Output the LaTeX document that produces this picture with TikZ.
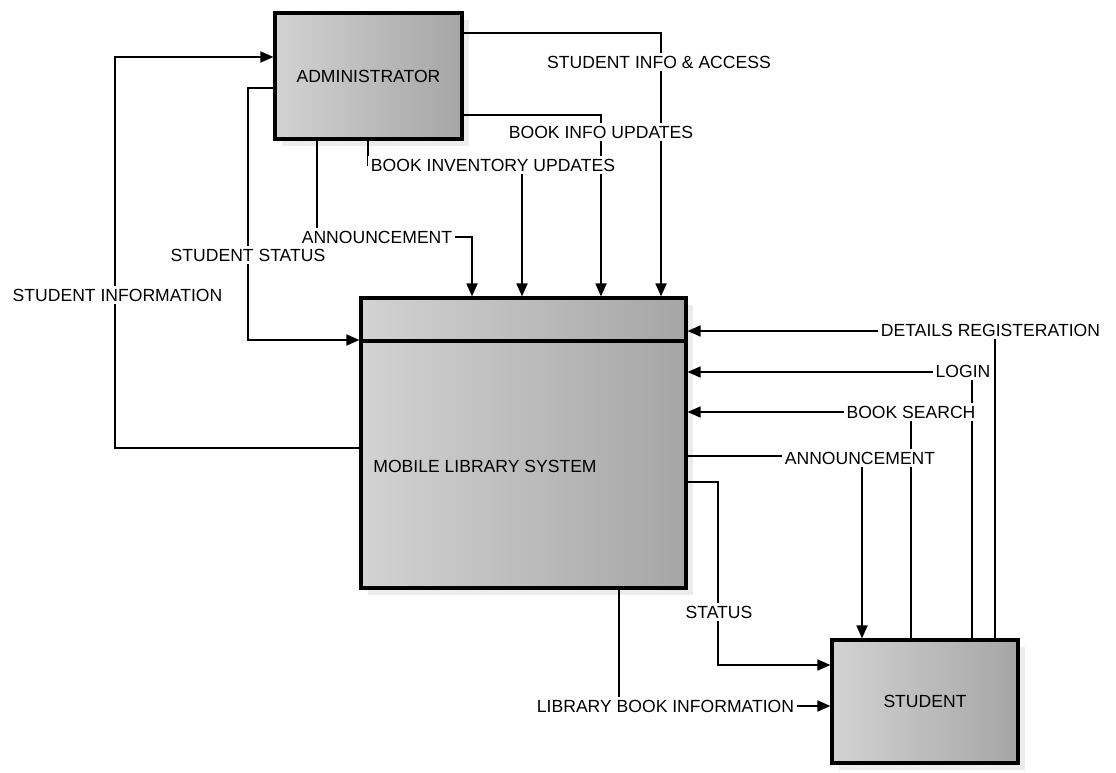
\documentclass[tikz,border=0pt]{standalone}
\usepackage{fontspec}
\setmainfont{Liberation Sans}
\usetikzlibrary{arrows.meta,shadows}
\begin{document}
\begin{tikzpicture}[
x=0.02cm, y=-0.02cm, % pixel-like grid, y grows downwards
font=\fontsize{10}{12}\selectfont,
>={Triangle[length=0.26cm,width=0.22cm]},
entity/.style={draw=black, line width=1.8pt, left color=gray!35, right color=gray!70,
  drop shadow={shadow xshift=4pt, shadow yshift=-4pt, fill=gray!30}, inner sep=0pt},
flow/.style={line width=1pt},
tag/.style={fill=white, inner sep=1.5pt}
]
\useasboundingbox (0,0) rectangle (1116,773);

% --- Entities ---
\node[entity, minimum width=3.74cm, minimum height=2.52cm] (admin) at (368.5,76) {ADMINISTRATOR};
\node[entity, minimum width=6.5cm, minimum height=5.8cm] (mls) at (523.5,443) {};
\draw[line width=1.8pt] (mls.west |- 0,341) -- (mls.east |- 0,341);
\node (mlstext) at (485,466) {MOBILE LIBRARY SYSTEM};
\node[entity, minimum width=3.72cm, minimum height=2.46cm] (student) at (925,701.5) {STUDENT};

% --- Flows between administrator and system ---
\draw[flow, ->] (mls.west |- 0,448) -| (115,57) -- (admin.west |- 0,57);
\draw[flow, ->] (admin.west |- 0,88) -| (248,340) -- (mls.west |- 0,340);
\draw[flow, ->] (admin.south -| 317,0) -- (317,237) -| (mls.north -| 472,0);
\draw[flow, ->] (admin.south -| 368,0) -- (368,165) -| (mls.north -| 522,0);
\draw[flow, ->] (admin.east |- 0,115) -| (mls.north -| 601,0);
\draw[flow, ->] (admin.east |- 0,33) -| (mls.north -| 661,0);

% --- Flows between student and system ---
\draw[flow, ->] (student.north -| 995,0) |- (mls.east |- 0,331);
\draw[flow, ->] (student.north -| 972,0) |- (mls.east |- 0,372);
\draw[flow, ->] (student.north -| 911,0) |- (mls.east |- 0,412);
\draw[flow, ->] (mls.east |- 0,456) -| (student.north -| 862,0);
\draw[flow, ->] (mls.east |- 0,482) -| (718,665) -- (student.west |- 0,665);
\draw[flow, ->] (mls.south -| 619,0) |- (student.west |- 0,706);

% --- Flow labels ---
\node[tag] (lblstuinfo) at (117.5,295) {STUDENT INFORMATION};
\node[tag] (lblstustat) at (248,255) {STUDENT STATUS};
\node[tag] (lbladmann) at (377,237) {ANNOUNCEMENT};
\node[tag, anchor=west] (lblinv) at (368,165) {BOOK INVENTORY UPDATES};
\node[tag] (lblinfo) at (601,132) {BOOK INFO UPDATES};
\node[tag] (lblaccess) at (659,62) {STUDENT INFO \& ACCESS};
\node[tag, anchor=west] (lbldetails) at (878,330) {DETAILS REGISTERATION};
\node[tag] (lbllogin) at (963,371) {LOGIN};
\node[tag] (lblsearch) at (911,412) {BOOK SEARCH};
\node[tag] (lblstuann) at (860,458) {ANNOUNCEMENT};
\node[tag] (lblstatus) at (719,612) {STATUS};
\node[tag] (lbllib) at (665.5,706) {LIBRARY BOOK INFORMATION};

\end{tikzpicture}
\end{document}
